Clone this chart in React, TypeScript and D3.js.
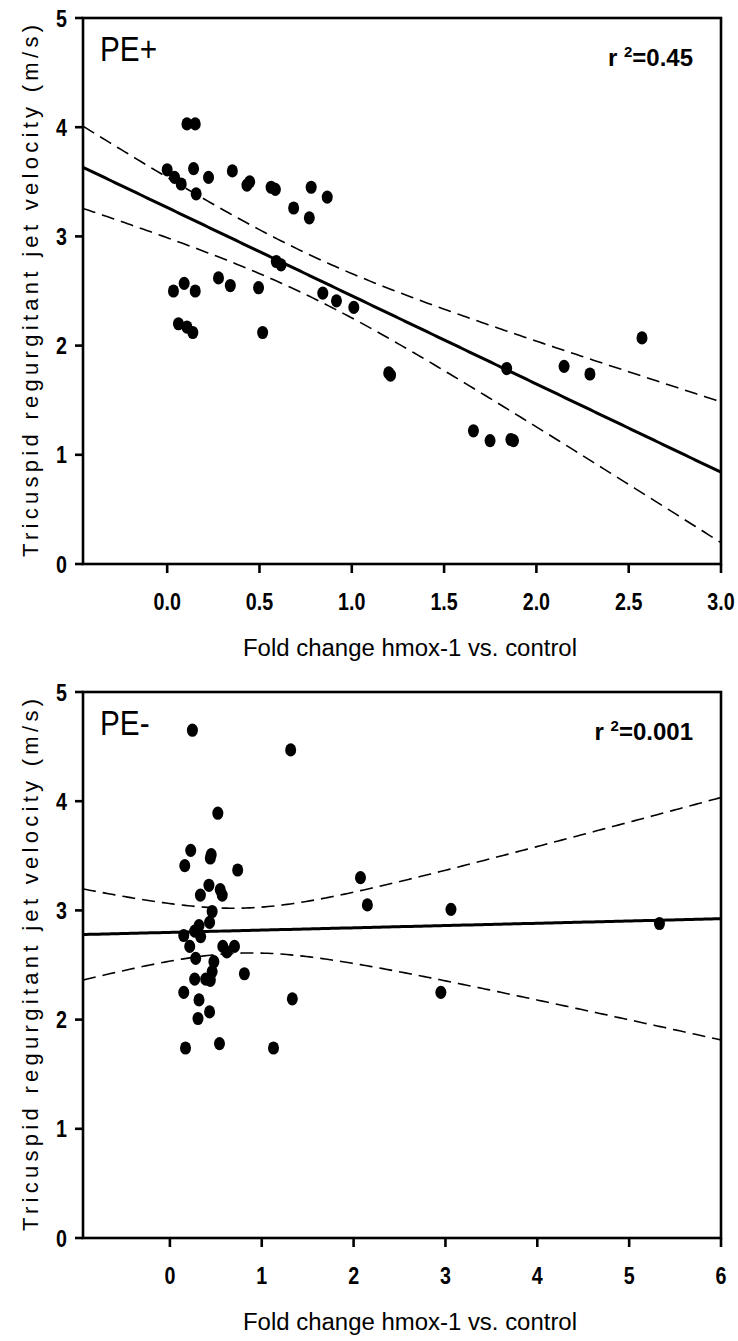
import React from 'react';
import * as d3 from 'd3';

// ---- PE+ panel data (fold change hmox-1, TR jet velocity m/s)
const pePlusX = [0.107, 0.152, 0.0, 0.04, 0.076, 0.143, 0.224, 0.157, 0.353, 0.432, 0.447, 0.563, 0.586, 0.685, 0.78, 0.77, 0.867, 0.591, 0.617, 0.034, 0.092, 0.152, 0.278, 0.342, 0.495, 0.061, 0.107, 0.139, 0.517, 0.843, 0.917, 1.011, 1.2, 1.21, 1.839, 2.15, 2.29, 2.572, 1.659, 1.749, 1.862, 1.876];
const pePlusY = [4.03, 4.03, 3.61, 3.54, 3.48, 3.62, 3.54, 3.39, 3.6, 3.47, 3.5, 3.45, 3.43, 3.26, 3.45, 3.17, 3.36, 2.77, 2.74, 2.5, 2.57, 2.5, 2.62, 2.55, 2.53, 2.2, 2.17, 2.12, 2.12, 2.48, 2.41, 2.35, 1.75, 1.73, 1.79, 1.81, 1.74, 2.07, 1.22, 1.13, 1.14, 1.13];

// ---- PE- panel data
const peMinusX = [0.245, 1.315, 0.522, 0.227, 0.45, 0.44, 0.162, 0.738, 2.075, 2.15, 0.425, 0.332, 0.548, 0.57, 0.46, 0.432, 0.317, 0.27, 0.151, 0.335, 0.216, 0.281, 0.576, 0.62, 0.703, 0.479, 0.46, 0.811, 0.27, 0.39, 0.44, 0.151, 0.317, 1.333, 0.432, 0.306, 0.17, 0.54, 1.128, 3.06, 2.95, 5.33];
const peMinusY = [4.65, 4.47, 3.89, 3.55, 3.51, 3.48, 3.41, 3.37, 3.3, 3.05, 3.23, 3.14, 3.19, 3.14, 2.99, 2.89, 2.86, 2.81, 2.77, 2.76, 2.67, 2.56, 2.67, 2.62, 2.67, 2.53, 2.44, 2.42, 2.37, 2.37, 2.36, 2.25, 2.18, 2.19, 2.07, 2.01, 1.74, 1.78, 1.74, 3.01, 2.25, 2.88];

const topXTicks = [0, 0.5, 1.0, 1.5, 2.0, 2.5, 3.0];
const bottomXTicks = [0, 1, 2, 3, 4, 5, 6];
const yTicks = [0, 1, 2, 3, 4, 5];
const panelLabels = ['PE+', 'PE-'];
const r2Labels = ['0.45', '0.001'];
const xTitle = 'Fold change hmox-1 vs. control';
const yTitle = 'Tricuspid regurgitant jet velocity (m/s)';
const tCrit = 2.02;

const sans = '"Liberation Sans", Arial, Helvetica, sans-serif';

function fit(xs: number[], ys: number[]) {
  const n = xs.length;
  const mx = d3.mean(xs) as number;
  const my = d3.mean(ys) as number;
  let sxx = 0, sxy = 0;
  xs.forEach((x, i) => { sxx += (x - mx) ** 2; sxy += (x - mx) * (ys[i] - my); });
  const b = sxy / sxx;
  const a = my - b * mx;
  let sse = 0;
  xs.forEach((x, i) => { sse += (ys[i] - a - b * x) ** 2; });
  const s = Math.sqrt(sse / (n - 2));
  return { a, b, band: (x: number) => tCrit * s * Math.sqrt(1 / n + (x - mx) ** 2 / sxx) };
}

function NarrowText({ x, y, sx, anchor, size, bold, children }: any) {
  return (
    <g transform={`translate(${x},${y}) scale(${sx},1)`}>
      <text x={0} y={0} textAnchor={anchor} fontFamily={sans} fontWeight={bold ? 'bold' : 'normal'} fontSize={size}>{children}</text>
    </g>
  );
}

interface PanelProps {
  xs: number[]; ys: number[]; xDomain: [number, number]; xTicks: number[];
  fmt: (v: number) => string; label: string; r2: string; top: number;
}

function Panel({ xs, ys, xDomain, xTicks, fmt, label, r2, top }: PanelProps) {
  const left = 83, right = 721, plotTop = top, plotBottom = top + 546;
  const x = d3.scaleLinear().domain(xDomain).range([left, right]);
  const y = d3.scaleLinear().domain([0, 5]).range([plotBottom, plotTop]);
  const f = fit(xs, ys);
  const grid = d3.range(0, 201).map(i => xDomain[0] + (xDomain[1] - xDomain[0]) * i / 200);
  const line = d3.line<number>().x(d => x(d)).y(d => y(f.a + f.b * d));
  const upper = d3.line<number>().x(d => x(d)).y(d => y(f.a + f.b * d + f.band(d)));
  const lower = d3.line<number>().x(d => x(d)).y(d => y(f.a + f.b * d - f.band(d)));
  const midY = (plotTop + plotBottom) / 2;
  return (
    <g>
      <defs>
        <clipPath id={'clip' + top}>
          <rect x={left} y={plotTop} width={right - left} height={plotBottom - plotTop} />
        </clipPath>
      </defs>
      <g clipPath={`url(#clip${top})`}>
        <path d={upper(grid) || ''} fill="none" stroke="#000" strokeWidth={1.6} strokeDasharray="13 7" />
        <path d={lower(grid) || ''} fill="none" stroke="#000" strokeWidth={1.6} strokeDasharray="13 7" />
        <path d={line(grid) || ''} fill="none" stroke="#000" strokeWidth={3} />
        {xs.map((v, i) => (
          <ellipse key={i} cx={x(v)} cy={y(ys[i])} rx={5.5} ry={6.6} fill="#000" />
        ))}
      </g>
      <rect x={left} y={plotTop} width={right - left} height={plotBottom - plotTop} fill="none" stroke="#000" strokeWidth={2.6} />
      {yTicks.map(t => (
        <g key={t}>
          <line x1={left - 8} x2={left} y1={y(t)} y2={y(t)} stroke="#000" strokeWidth={2.6} />
          <NarrowText x={67} y={y(t) + 8.5} sx={0.82} anchor="end" size={24} bold>{t}</NarrowText>
        </g>
      ))}
      {xTicks.map(t => (
        <g key={t}>
          <line x1={x(t)} x2={x(t)} y1={plotBottom} y2={plotBottom + 9} stroke="#000" strokeWidth={2.6} />
          <NarrowText x={x(t)} y={plotBottom + 46} sx={0.82} anchor="middle" size={24} bold>{fmt(t)}</NarrowText>
        </g>
      ))}
      <text x={410} y={plotBottom + 92} textAnchor="middle" fontFamily={sans} fontSize={23}
        textLength={334} lengthAdjust="spacingAndGlyphs">{xTitle}</text>
      <text transform={`translate(38,${midY}) rotate(-90)`} textAnchor="middle" fontFamily={sans} fontSize={22}
        textLength={532} lengthAdjust="spacing">{yTitle}</text>
      <NarrowText x={100} y={plotTop + 43} sx={0.85} anchor="start" size={35}>{label}</NarrowText>
      <text x={693} y={plotTop + 48} textAnchor="end" fontFamily={sans} fontWeight="bold" fontSize={24}>
        r <tspan fontSize={15} dy={-9}>2</tspan><tspan dy={9}>={r2}</tspan>
      </text>
    </g>
  );
}

export default function App() {
  return (
    <svg width={738} height={1341} style={{ position: 'absolute', left: 0, top: 0, background: '#fff' }}>
      <rect width={738} height={1341} fill="#fff" />
      <Panel xs={pePlusX} ys={pePlusY} xDomain={[-0.456, 3.0]} xTicks={topXTicks} fmt={d3.format('.1f')}
        label={panelLabels[0]} r2={r2Labels[0]} top={18} />
      <Panel xs={peMinusX} ys={peMinusY} xDomain={[-0.946, 6.0]} xTicks={bottomXTicks} fmt={d3.format('d')}
        label={panelLabels[1]} r2={r2Labels[1]} top={692} />
    </svg>
  );
}
